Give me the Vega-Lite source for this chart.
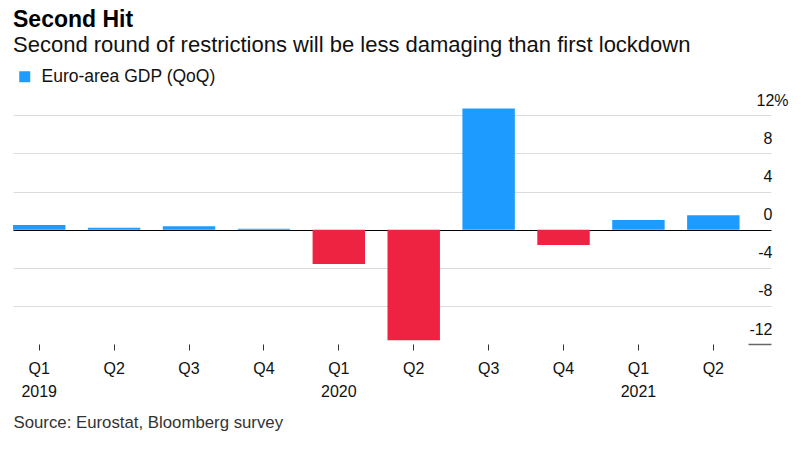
{
  "$schema": "https://vega.github.io/schema/vega-lite/v6.json",
  "autosize": {"type": "none"},
  "width": 758,
  "height": 243,
  "padding": {"left": 13, "top": 101, "right": 31, "bottom": 105},
  "background": "white",
  "config": {
    "font": "Liberation Sans",
    "view": {"stroke": null}
  },
  "title": {
    "text": "Second Hit",
    "subtitle": "Second round of restrictions will be less damaging than first lockdown",
    "anchor": "start",
    "frame": "group",
    "font": "Liberation Sans",
    "fontSize": 23,
    "fontWeight": "bold",
    "color": "#000000",
    "subtitleFont": "Liberation Sans",
    "subtitleFontSize": 22,
    "subtitleColor": "#111111",
    "subtitlePadding": 3,
    "offset": 12
  },
  "data": {
    "values": [
      {"quarter": "Q1 2019", "gdp": 0.5, "series": "Euro-area GDP (QoQ)"},
      {"quarter": "Q2 2019", "gdp": 0.2, "series": "Euro-area GDP (QoQ)"},
      {"quarter": "Q3 2019", "gdp": 0.35, "series": "Euro-area GDP (QoQ)"},
      {"quarter": "Q4 2019", "gdp": 0.1, "series": "Euro-area GDP (QoQ)"},
      {"quarter": "Q1 2020", "gdp": -3.6, "series": "Euro-area GDP (QoQ)"},
      {"quarter": "Q2 2020", "gdp": -11.6, "series": "Euro-area GDP (QoQ)"},
      {"quarter": "Q3 2020", "gdp": 12.7, "series": "Euro-area GDP (QoQ)"},
      {"quarter": "Q4 2020", "gdp": -1.6, "series": "Euro-area GDP (QoQ)"},
      {"quarter": "Q1 2021", "gdp": 1.0, "series": "Euro-area GDP (QoQ)"},
      {"quarter": "Q2 2021", "gdp": 1.5, "series": "Euro-area GDP (QoQ)"}
    ]
  },
  "mark": {"type": "bar"},
  "encoding": {
    "x": {
      "field": "quarter",
      "type": "nominal",
      "sort": null,
      "scale": {"paddingInner": 0.3, "paddingOuter": 0.21, "align": 0},
      "axis": {
        "orient": "bottom",
        "domain": false,
        "grid": false,
        "ticks": true,
        "tickSize": 6,
        "tickColor": "#333333",
        "tickWidth": 1,
        "labelAngle": 0,
        "labelFontSize": 16,
        "labelColor": "#111111",
        "labelPadding": 10,
        "labelLineHeight": 23,
        "labelBaseline": "top",
        "labelExpr": "[split(datum.label, ' ')[0], split(datum.label, ' ')[0] == 'Q1' ? split(datum.label, ' ')[1] : '']",
        "title": "Source: Eurostat, Bloomberg survey",
        "titleX": 0,
        "titleY": 83,
        "titleAlign": "left",
        "titleAnchor": "start",
        "titleBaseline": "alphabetic",
        "titleFontSize": 16.8,
        "titleFontWeight": "normal",
        "titleColor": "#333333"
      }
    },
    "y": {
      "field": "gdp",
      "type": "quantitative",
      "scale": {"domain": [-12, 13.5], "nice": false, "zero": false},
      "axis": {
        "orient": "right",
        "values": [-12, -8, -4, 0, 4, 8, 12],
        "domain": false,
        "grid": true,
        "gridColor": {
          "condition": [
            {"test": "datum.value == 0", "value": "#000000"},
            {"test": "datum.value == -12", "value": "transparent"}
          ],
          "value": "#dcdcdc"
        },
        "gridWidth": 1,
        "ticks": true,
        "tickSize": -23,
        "tickColor": {
          "condition": {"test": "datum.value == -12", "value": "#666666"},
          "value": "transparent"
        },
        "tickWidth": 1.5,
        "labelAlign": {
          "condition": {"test": "datum.value == 12", "value": "center"},
          "value": "right"
        },
        "labelBaseline": "alphabetic",
        "labelOffset": -10,
        "labelPadding": 24,
        "labelFontSize": 16,
        "labelColor": "#111111",
        "labelExpr": "datum.value == 12 ? '12%' : '' + datum.value",
        "title": null
      }
    },
    "color": {
      "field": "series",
      "type": "nominal",
      "condition": {"test": "datum.gdp < 0", "value": "#EE2241"},
      "scale": {"range": ["#1E9BFF"]},
      "legend": {
        "title": null,
        "orient": "none",
        "legendX": 3,
        "legendY": -33,
        "symbolType": "square",
        "symbolSize": 121,
        "symbolStrokeWidth": 0,
        "symbolOpacity": 1,
        "labelFontSize": 17.5,
        "labelLimit": 400,
        "labelColor": "#111111",
        "labelOffset": 8
      }
    }
  }
}
